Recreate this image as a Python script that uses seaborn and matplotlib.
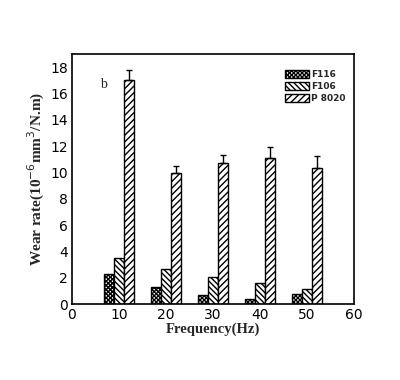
import pandas as pd
import numpy as np
import matplotlib
matplotlib.use('Agg')
import matplotlib.pyplot as plt
import seaborn as sns

sns.set_style('white')

freq = [10, 20, 30, 40, 50]
series = ['F116', 'F106', 'P 8020']
f116 = [2.27, 1.29, 0.66, 0.40, 0.78]
f106 = [3.48, 2.63, 2.07, 1.59, 1.14]
pb = [17.0, 9.97, 10.7, 11.1, 10.35]
pb_err = [0.75, 0.5, 0.64, 0.85, 0.9]
hatches = ['xxxxxxxx', '\\\\\\\\\\\\', '/////']

rows = []
for name, vals in zip(series, [f116, f106, pb]):
    for f, v in zip(freq, vals):
        rows.append({'freq': f, 'rate': v, 'mat': name})
df = pd.DataFrame(rows)

plt.rcParams['hatch.linewidth'] = 1.0
fig = plt.figure(figsize=(4, 3.8), dpi=100)
ax = fig.add_axes([0.18, 0.2, 0.705, 0.658])
ax = sns.barplot(data=df, x='freq', y='rate', hue='mat', hue_order=series,
                 native_scale=True, width=0.62, palette=['white'] * 3,
                 edgecolor='black', linewidth=1.0, errorbar=None, ax=ax)

for cont, h in zip(ax.containers, hatches):
    for bar in cont:
        bar.set_hatch(h)
        bar.set_edgecolor('black')

# error bars on the P series, upward only
pc = ax.containers[2]
xs = [b.get_x() + b.get_width() / 2 for b in pc]
ax.errorbar(xs, pb, yerr=[np.zeros(len(pb)), pb_err], fmt='none',
            ecolor='black', elinewidth=1.0, capsize=2, capthick=1.0)

ax.set_xlim(0, 60)
ax.set_ylim(0, 19)
ax.set_xticks([0, 10, 20, 30, 40, 50, 60])
ax.set_yticks(np.arange(0, 19, 2))
ax.tick_params(labelsize=10, length=0, pad=3, labelcolor='black')
for s in ax.spines.values():
    s.set_color('black')
    s.set_linewidth(1.2)

ax.set_xlabel('Frequency(Hz)', family='Liberation Serif', fontweight='bold',
              fontsize=10.5, labelpad=0)
ax.set_ylabel('Wear rate(10$^{-6}$mm$^3$/N.m)', family='Liberation Serif',
              fontweight='bold', fontsize=11, labelpad=2)
ax.text(6, 16.4, 'b', fontsize=10, family='Liberation Serif')

leg = ax.legend(loc='upper right', bbox_to_anchor=(1.0, 0.97), frameon=False,
                fontsize=6.5, handlelength=2.6, handleheight=1.1,
                labelspacing=0.3, handletextpad=0.3, borderaxespad=0.5)
for hd, h in zip(leg.legend_handles, hatches):
    hd.set_hatch(h)
    hd.set_edgecolor('black')
    hd.set_facecolor('white')
for t in leg.get_texts():
    t.set_fontweight('bold')

fig.savefig('out.png', dpi=100)
